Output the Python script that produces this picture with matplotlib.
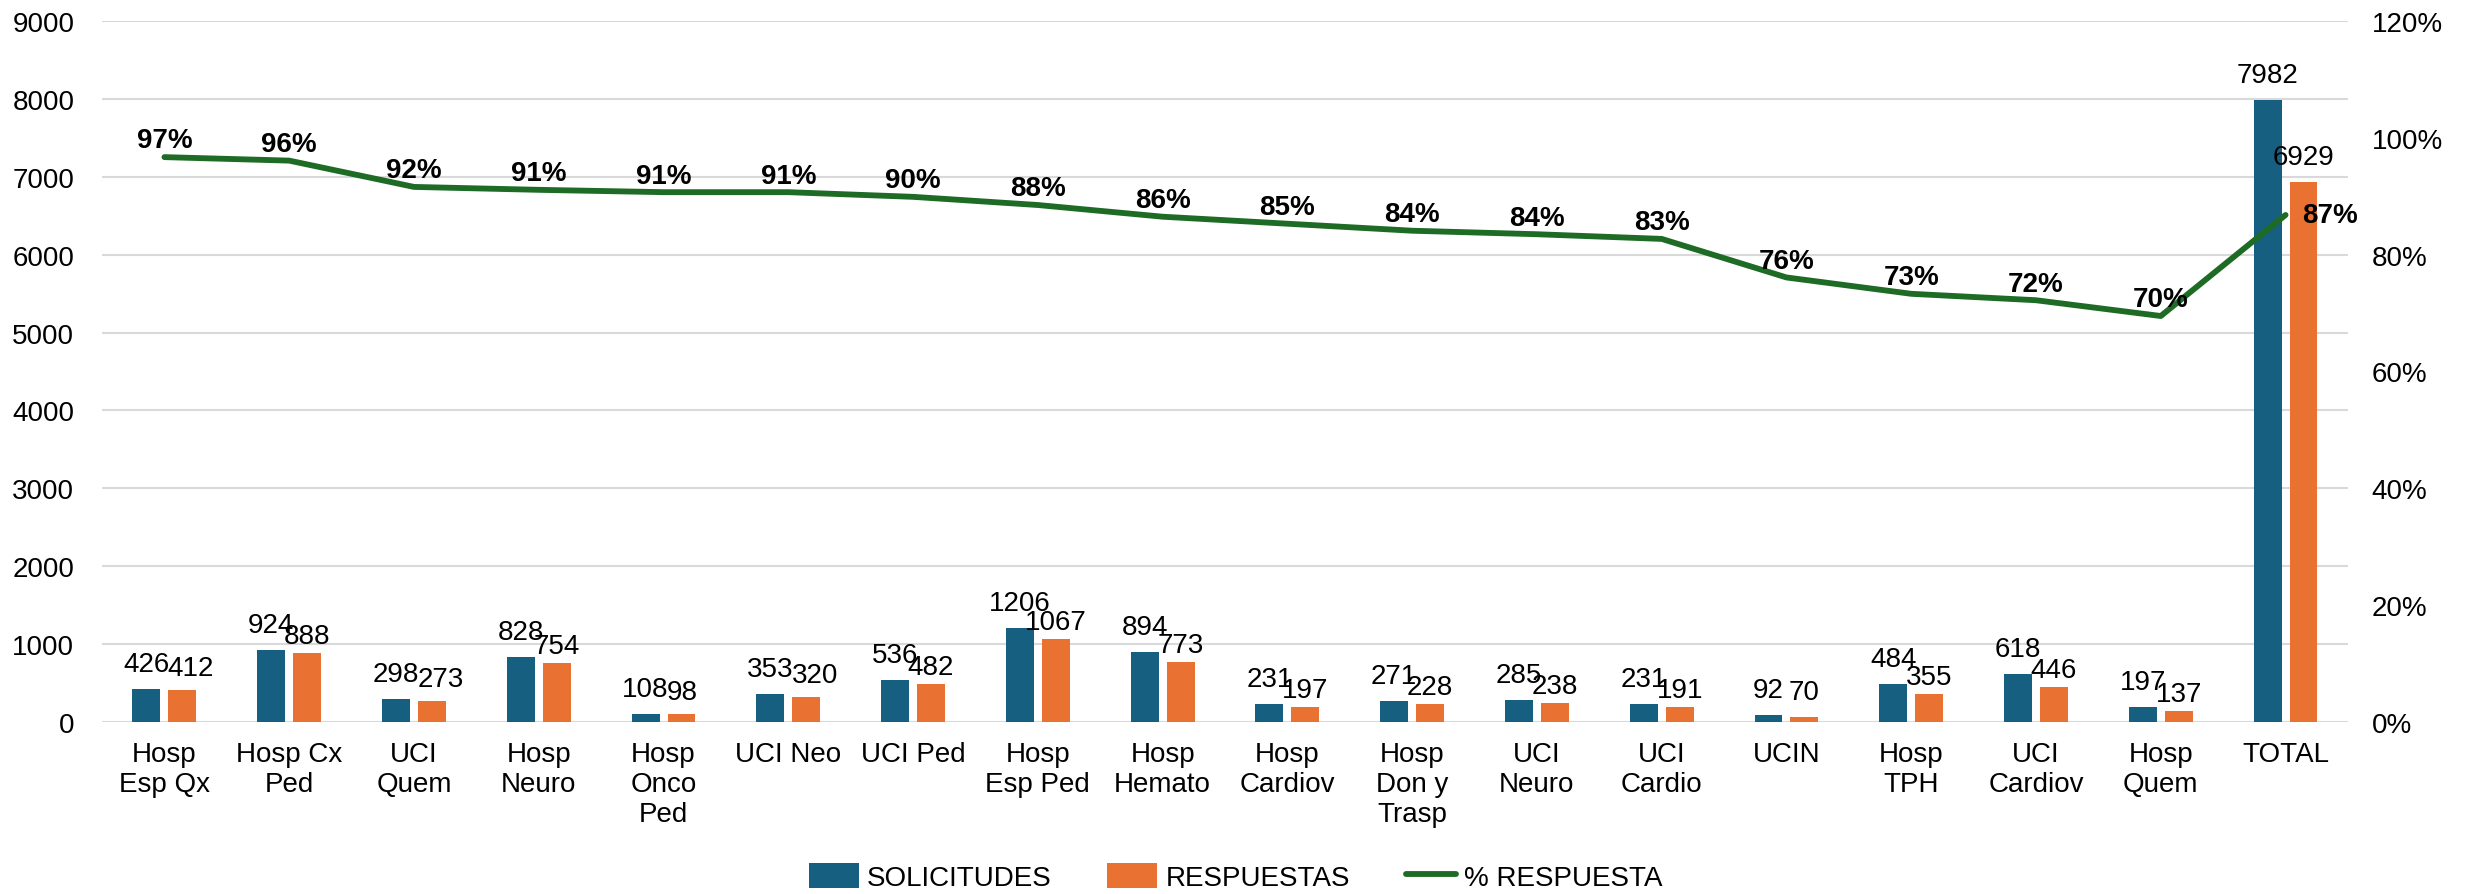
import matplotlib
matplotlib.use('Agg')
import matplotlib.pyplot as plt
import numpy as np

# data
categories = ["Hosp\nEsp Qx", "Hosp Cx\nPed", "UCI\nQuem", "Hosp\nNeuro", "Hosp\nOnco\nPed",
              "UCI Neo", "UCI Ped", "Hosp\nEsp Ped", "Hosp\nHemato", "Hosp\nCardiov",
              "Hosp\nDon y\nTrasp", "UCI\nNeuro", "UCI\nCardio", "UCIN", "Hosp\nTPH",
              "UCI\nCardiov", "Hosp\nQuem", "TOTAL"]
solicitudes = [426, 924, 298, 828, 108, 353, 536, 1206, 894, 231, 271, 285, 231, 92, 484, 618, 197, 7982]
respuestas = [412, 888, 273, 754, 98, 320, 482, 1067, 773, 197, 228, 238, 191, 70, 355, 446, 137, 6929]
pct_respuesta = [0.967, 0.961, 0.916, 0.911, 0.907, 0.907, 0.899, 0.885, 0.865, 0.853,
                 0.841, 0.835, 0.827, 0.761, 0.733, 0.722, 0.695, 0.868]

BLUE = "#175F80"
ORANGE = "#E97132"
GREEN = "#1D6B25"
GRID = "#D9D9D9"
FS = 20
PX = 0.72  # points per pixel at dpi 100

plt.rcParams['font.family'] = ['Liberation Sans', 'DejaVu Sans']
plt.rcParams['font.size'] = FS

fig = plt.figure(figsize=(24.71, 8.95), dpi=100)
ax = fig.add_axes([0.0413, 0.1922, 0.9089, 0.7832])
ax2 = ax.twinx()

x = np.arange(len(categories))
w = 0.224
off = 0.144

b1 = ax.bar(x - off, solicitudes, w, color=BLUE, label="SOLICITUDES", zorder=3)
b2 = ax.bar(x + off, respuestas, w, color=ORANGE, label="RESPUESTAS", zorder=3)


def bar_label(rect, v):
    return ax.annotate(str(v), (rect.get_x() + rect.get_width() / 2, rect.get_height()),
                       xytext=(0, 18 * PX), textcoords="offset points",
                       ha="center", va="baseline", fontsize=FS, zorder=5)


labels_s = [bar_label(r, v) for r, v in zip(b1, solicitudes)]
labels_r = [bar_label(r, v) for r, v in zip(b2, respuestas)]

ax.set_xlim(-0.5, len(categories) - 0.5)
ax.set_ylim(0, 9000)
ax.set_yticks(np.arange(0, 9001, 1000))
ax.set_xticks(x)
ax.set_xticklabels(categories, linespacing=1.2)
ax.tick_params(axis='x', length=0, pad=14)
ax.tick_params(axis='y', length=0, pad=20)
ax.grid(axis='y', color=GRID, linewidth=1.5, zorder=0)
ax.set_axisbelow(True)
for s in ax.spines.values():
    s.set_visible(False)

line, = ax2.plot(x, pct_respuesta, color=GREEN, linewidth=4.2, label="% RESPUESTA",
                 solid_capstyle="round", zorder=4)
ax2.set_ylim(0, 1.2)
ax2.set_yticks(np.arange(0, 1.21, 0.2))
ax2.set_yticklabels([f"{int(round(t * 100))}%" for t in np.arange(0, 1.21, 0.2)])
ax2.tick_params(axis='y', length=0, pad=17)
for s in ax2.spines.values():
    s.set_visible(False)

for i, p in enumerate(pct_respuesta):
    if i == len(pct_respuesta) - 1:
        ax2.annotate(f"{round(p * 100):.0f}%", (x[i], p), xytext=(12, 0), textcoords="offset points",
                     ha="left", va="center", fontsize=FS, fontweight="bold", zorder=6)
    else:
        ax2.annotate(f"{round(p * 100):.0f}%", (x[i], p), xytext=(0, 12), textcoords="offset points",
                     ha="center", va="center", fontsize=FS, fontweight="bold", zorder=6)

# bottom axis line drawn as a grid line at 0
ax.axhline(0, color=GRID, linewidth=2, zorder=2)

handles = [b1, b2, line]
fig.legend(handles, [h.get_label() for h in handles], loc="center", bbox_to_anchor=(0.5, 0.019),
           ncol=3, frameon=False, fontsize=FS, handlelength=1.8, handleheight=1.0,
           columnspacing=2.0, handletextpad=0.3, borderpad=0.2)

# nudge colliding value labels the way the spreadsheet does: second label lower / to the right
fig.canvas.draw()
renderer = fig.canvas.get_renderer()
for ts, tr, rs, rr in zip(labels_s, labels_r, b1, b2):
    bs = ts.get_window_extent(renderer)
    br = tr.get_window_extent(renderer)
    if bs.overlaps(br):
        tr.xyann = (0, 10 * PX)
        top_s = ax.transData.transform((0, rs.get_height()))[1]
        top_r = ax.transData.transform((0, rr.get_height()))[1]
        if top_s - top_r < 2.62:
            tr.xyann = (0, 15 * PX)
            shift = bs.x1 - br.x0 - 2
            tr.xyann = (shift * PX, 15 * PX)

fig.savefig("out.png", dpi=100)
